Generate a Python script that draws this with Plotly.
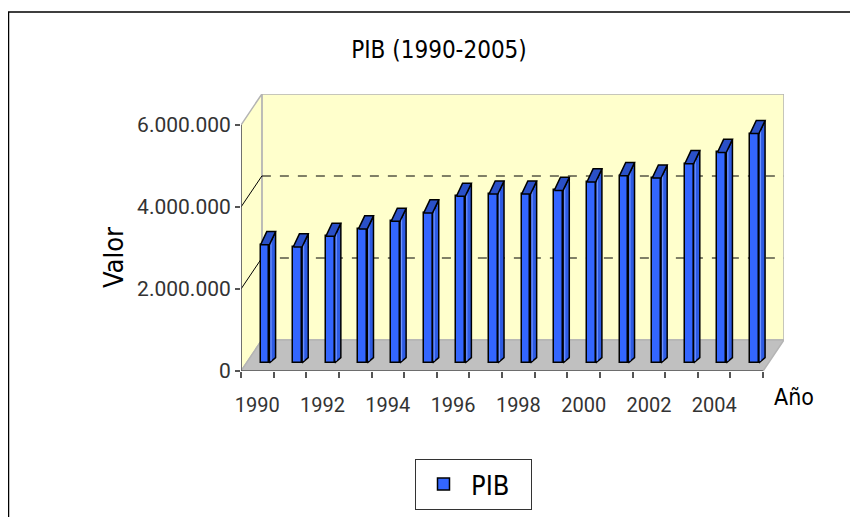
import numpy as np
import plotly.graph_objects as go

# ---------------- data ----------------
years = [1990, 1991, 1992, 1993, 1994, 1995, 1996, 1997,
         1998, 1999, 2000, 2001, 2002, 2003, 2004, 2005]
pib = [2885000, 2830000, 3090000, 3270000, 3455000, 3660000, 4065000, 4120000,
       4120000, 4210000, 4415000, 4570000, 4510000, 4860000, 5135000, 5595000]
y_tick_values = [0, 2000000, 4000000, 6000000]
y_tick_labels = ["0", "2.000.000", "4.000.000", "6.000.000"]
x_tick_labels = ["1990", "1992", "1994", "1996", "1998", "2000", "2002", "2004"]

# ---------------- geometry / style ----------------
N = len(years)
DX = 0.64          # depth shift (category units)
DY = 0.756e6       # depth shift (value units)
YMAX = 6e6
X0 = 0.60          # bar front-face left offset inside category
BW = 0.27          # bar front width
BASE = 0.195e6     # bar floor level (depth)
SDX = 0.19         # bar side depth (x)
SDY_BOT = 0.13e6
TDY = 0.32e6

FRONT = "#3366FF"
SIDE = "#2D5BE3"
TOP = "#2A50C8"
WALL = "#FFFFCC"
FLOOR = "#C0C0C0"
EDGE = "#B4B4B4"
FONT = "Liberation Sans Narrow, DejaVu Sans Condensed, Roboto Condensed, Roboto, sans-serif"
TICKFONT = "Roboto, Open Sans, sans-serif"

OFF = 8            # page body margin
W, H = 858 - OFF, 517 - OFF

idx = np.arange(N)
vals = np.array(pib, dtype=float)

fig = go.Figure()

# side faces
sx, sy = [], []
for i, v in zip(idx, vals):
    xl = i + X0 + BW
    xr = xl + SDX
    sx += [xl, xr, xr, xl, xl, None]
    sy += [BASE, BASE + SDY_BOT, BASE + v + TDY, BASE + v, BASE, None]
fig.add_trace(go.Scatter(x=sx, y=sy, mode="lines", fill="toself", fillcolor=SIDE,
                         line=dict(color="black", width=1.5), showlegend=False,
                         hoverinfo="skip"))

# front faces (bars)
fig.add_trace(go.Bar(x=idx + X0 + BW / 2, y=vals, base=BASE, width=BW, name="PIB",
                     marker=dict(color=FRONT, line=dict(color="black", width=1.5)),
                     showlegend=True))

# highlight stripe
hx, hy = [], []
for i, v in zip(idx, vals):
    xx = i + X0 + BW + 0.05
    hx += [xx, xx, None]
    hy += [BASE + SDY_BOT * 0.4, BASE + v + TDY * 0.3, None]
fig.add_trace(go.Scatter(x=hx, y=hy, mode="lines", line=dict(color="#6F93FF", width=1.2),
                         showlegend=False, hoverinfo="skip"))

# top faces
tx, ty = [], []
for i, v in zip(idx, vals):
    xl = i + X0
    T = BASE + v
    tx += [xl, xl + BW, xl + BW + SDX, xl + SDX, xl, None]
    ty += [T, T, T + TDY, T + TDY, T, None]
fig.add_trace(go.Scatter(x=tx, y=ty, mode="lines", fill="toself", fillcolor=TOP,
                         line=dict(color="black", width=1.5), showlegend=False,
                         hoverinfo="skip"))

shapes = []
# back wall
shapes.append(dict(type="rect", xref="x", yref="y", x0=DX, x1=N + DX, y0=DY, y1=YMAX + DY,
                   fillcolor=WALL, line=dict(color=EDGE, width=1.5), layer="below"))
# left wall
shapes.append(dict(type="path", xref="x", yref="y",
                   path=f"M 0,0 L 0,{YMAX} L {DX},{YMAX+DY} L {DX},{DY} Z",
                   fillcolor=WALL, line=dict(color=EDGE, width=1.5), layer="below"))
# floor
shapes.append(dict(type="path", xref="x", yref="y",
                   path=f"M 0,0 L {N},0 L {N+DX},{DY} L {DX},{DY} Z",
                   fillcolor=FLOOR, line=dict(color=EDGE, width=1.5), layer="below"))
# gridlines
for g in y_tick_values[1:-1]:
    shapes.append(dict(type="line", xref="x", yref="y", x0=DX, x1=N + DX, y0=g + DY, y1=g + DY,
                       line=dict(color="black", width=1, dash="dash"), layer="below"))
    shapes.append(dict(type="line", xref="x", yref="y", x0=0, x1=DX, y0=g, y1=g + DY,
                       line=dict(color="black", width=1), layer="below"))
# axis lines
shapes.append(dict(type="line", xref="x", yref="y", x0=0, x1=0, y0=0, y1=YMAX,
                   line=dict(color="#555555", width=1.5)))
shapes.append(dict(type="line", xref="x", yref="y", x0=0, x1=N, y0=0, y1=0,
                   line=dict(color="#555555", width=1.5)))

# margins in figure px (page px minus body offset)
L, T_ = 241 - OFF, 94 - OFF
R = W - (784 - OFF)
B = H - (371 - OFF)
pw, ph = W - L - R, H - T_ - B


def px2paper(px, py):
    """page pixel -> paper coords"""
    return (px - OFF - L) / pw, (H - B - (py - OFF)) / ph


fx0, fy0 = px2paper(8.5, 530)
fx1, fy1 = px2paper(851, 12)
shapes.append(dict(type="rect", xref="paper", yref="paper", x0=fx0, x1=fx1, y0=fy0, y1=fy1,
                   line=dict(color="black", width=1.5), fillcolor="rgba(0,0,0,0)"))

vx, vy = px2paper(113, 258)
ax_, ay_ = px2paper(794, 397)

fig.update_layout(
    width=W, height=H, autosize=False,
    margin=dict(l=L, r=R, t=T_, b=B, pad=0, autoexpand=False),
    paper_bgcolor="white", plot_bgcolor="white",
    shapes=shapes,
    bargap=0,
    showlegend=True,
    legend=dict(xref="container", yref="container", x=(415 - OFF) / W, y=1 - (459 - OFF) / H,
                xanchor="left", yanchor="top", bgcolor="white", orientation="h",
                bordercolor="#333333", borderwidth=1, entrywidth=55, itemwidth=45,
                font=dict(family=FONT, size=27, color="black")),
    title=dict(text="PIB (1990-2005)", xref="container", yref="container",
               x=(439 - OFF) / W, y=1 - (50 - OFF) / H, xanchor="center", yanchor="middle",
               font=dict(family=FONT, size=24, color="black")),
    annotations=[
        dict(text="Valor", xref="paper", yref="paper", x=vx, y=vy, xanchor="center",
             yanchor="middle", textangle=-90, showarrow=False,
             font=dict(family=FONT, size=27, color="black")),
        dict(text="Año", xref="paper", yref="paper", x=ax_, y=ay_, xanchor="center",
             yanchor="middle", showarrow=False,
             font=dict(family=FONT, size=23, color="black")),
    ],
    xaxis=dict(range=[0, N + DX], showgrid=False, zeroline=False, showline=False,
               tickmode="array", tickvals=[i * 2 + 0.5 for i in range(len(x_tick_labels))],
               ticktext=x_tick_labels, ticks="", ticklabelstandoff=20, tickangle=0,
               automargin=False,
               tickfont=dict(family=TICKFONT, size=20, color="#333333"),
               minor=dict(tickmode="array", tickvals=list(range(N + 1)), ticks="outside",
                          ticklen=6, tickcolor="#555555", tickwidth=1.5),
               fixedrange=True),
    yaxis=dict(range=[0, YMAX + DY], showgrid=False, zeroline=False, showline=False,
               tickmode="array", tickvals=y_tick_values, ticktext=y_tick_labels,
               ticks="outside", ticklen=5, tickcolor="#555555", tickwidth=1.5,
               automargin=False,
               tickfont=dict(family=TICKFONT, size=21, color="#333333"),
               fixedrange=True),
)

fig.write_html("out.html")
